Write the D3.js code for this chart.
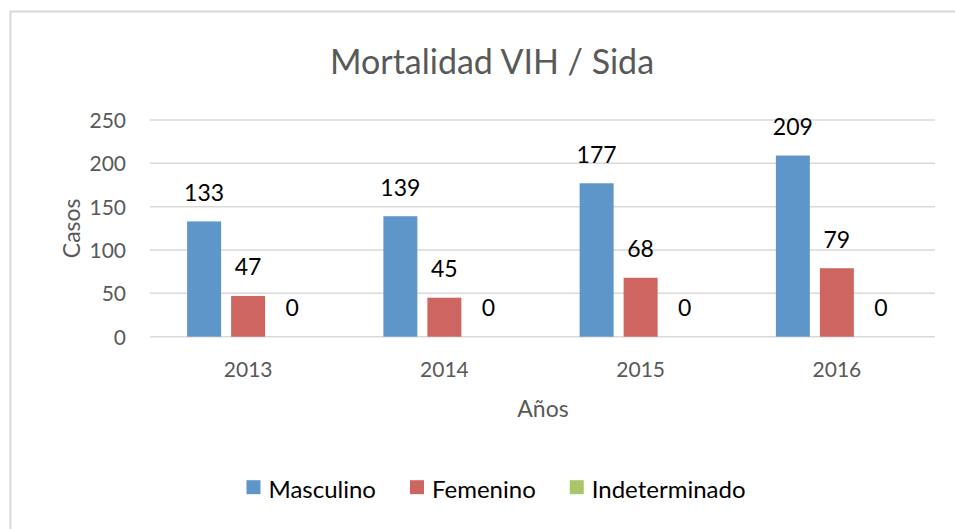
<!DOCTYPE html>
<html>
<head>
<meta charset="utf-8">
<script src="https://cdn.jsdelivr.net/npm/d3@7"></script>
<style>
  body { margin: 0; background: #fff; }
  text { font-family: Lato, "Open Sans", sans-serif; }
</style>
</head>
<body>
<div class="chart"></div>
<script>
// data
var years = ["2013", "2014", "2015", "2016"];
var series = ["Masculino", "Femenino", "Indeterminado"];
var masculino = [133, 139, 177, 209];
var femenino = [47, 45, 68, 79];
var indeterminado = [0, 0, 0, 0];
var yTicks = [0, 50, 100, 150, 200, 250];
var colors = ["#5f96ca", "#cd6660", "#aac669"];

var svgWidth = 955;
var svgHeight = 529;
var plot = {left: 150, right: 935, top: 120, bottom: 336.7};

var svg = d3.select(".chart")
  .append("svg")
  .attr("width", svgWidth)
  .attr("height", svgHeight);

// chart area border
svg.append("rect")
  .attr("x", 10.5).attr("y", 11.5)
  .attr("width", 960).attr("height", 540)
  .attr("fill", "none")
  .attr("stroke", "#d9d9d9")
  .attr("stroke-width", 2);

var table = years.map(function(y, i) {
  return {year: y, values: [masculino[i], femenino[i], indeterminado[i]]};
});

var x0 = d3.scaleBand().domain(years).range([plot.left, plot.right]);
// bar 34px, gap 10px
var padIn = 10 / 44;
var padOut = (x0.bandwidth() / 44 - 3 + padIn) / 2;
var x1 = d3.scaleBand().domain(series).range([0, x0.bandwidth()])
  .paddingInner(padIn).paddingOuter(padOut);
var y = d3.scaleLinear().domain([0, 250]).range([plot.bottom, plot.top]);

// gridlines
svg.append("g")
  .selectAll("line")
  .data(yTicks)
  .enter().append("line")
  .attr("x1", plot.left).attr("x2", plot.right)
  .attr("y1", function(d) { return y(d); })
  .attr("y2", function(d) { return y(d); })
  .attr("stroke", "#d9d9d9")
  .attr("stroke-width", 1.5);

// y axis labels
var leftAxis = d3.axisLeft(y).tickValues(yTicks).tickSize(0).tickPadding(0);
var gy = svg.append("g")
  .attr("transform", "translate(126,0)")
  .call(leftAxis);
gy.select(".domain").remove();
gy.selectAll("text")
  .attr("fill", "#595959")
  .style("font-size", "21px")
  .attr("dy", "0.36em");

// x axis labels
var bottomAxis = d3.axisBottom(x0).tickSize(0).tickPadding(0);
var gx = svg.append("g")
  .attr("transform", "translate(0," + plot.bottom + ")")
  .call(bottomAxis);
gx.select(".domain").remove();
gx.selectAll("text")
  .attr("fill", "#595959")
  .style("font-size", "21px")
  .attr("y", 40)
  .attr("dy", 0);

// bars
var groups = svg.append("g")
  .selectAll("g")
  .data(table)
  .enter().append("g")
  .attr("transform", function(d) { return "translate(" + x0(d.year) + ",0)"; });

var cells = groups.selectAll("g")
  .data(function(d) {
    return d.values.map(function(v, i) { return {key: series[i], value: v, i: i}; });
  })
  .enter().append("g");

cells.append("rect")
  .attr("x", function(d) { return x1(d.key); })
  .attr("y", function(d) { return y(d.value); })
  .attr("width", x1.bandwidth())
  .attr("height", function(d) { return y(0) - y(d.value); })
  .attr("fill", function(d) { return colors[d.i]; });

cells.append("text")
  .attr("x", function(d) { return x1(d.key) + x1.bandwidth() / 2; })
  .attr("y", function(d) { return y(d.value) - 20.5; })
  .attr("text-anchor", "middle")
  .attr("fill", "#000")
  .style("font-size", "23px")
  .text(function(d) { return d.value; });

// title
svg.append("text")
  .attr("x", 492).attr("y", 74)
  .attr("text-anchor", "middle")
  .attr("fill", "#595959")
  .style("font-size", "34px")
  .text("Mortalidad VIH / Sida");

// axis titles
svg.append("text")
  .attr("x", 543).attr("y", 417)
  .attr("text-anchor", "middle")
  .attr("fill", "#595959")
  .style("font-size", "23px")
  .text("Años");

svg.append("text")
  .attr("transform", "translate(80," + (plot.top + plot.bottom) / 2 + ") rotate(-90)")
  .attr("text-anchor", "middle")
  .attr("fill", "#595959")
  .style("font-size", "23px")
  .text("Casos");

// legend
var legend = svg.append("g");
var lx = 0;
series.forEach(function(s, i) {
  var item = legend.append("g").attr("transform", "translate(" + lx + ",0)");
  item.append("rect")
    .attr("x", 0).attr("y", -17.5)
    .attr("width", 14).attr("height", 14)
    .attr("fill", colors[i]);
  var t = item.append("text")
    .attr("x", 22).attr("y", 0)
    .attr("fill", "#000")
    .style("font-size", "24px")
    .text(s);
  lx += 22 + t.node().getComputedTextLength() + 34;
});
var legendWidth = lx - 34;
legend.attr("transform", "translate(" + (496 - legendWidth / 2) + ",497.7)");
</script>
</body>
</html>
